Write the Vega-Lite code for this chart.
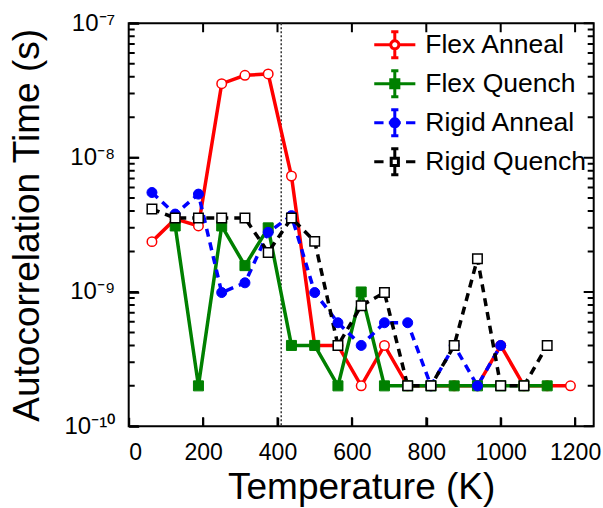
{
  "$schema": "https://vega.github.io/schema/vega-lite/v6.json",
  "width": 465,
  "height": 403,
  "autosize": {"type": "none"},
  "padding": {"left": 128.7, "top": 23.3, "right": 9.3, "bottom": 81.7},
  "config": {
    "font": "Liberation Sans",
    "view": {"stroke": "black", "strokeWidth": 2},
    "axis": {"grid": false, "domain": false, "labelColor": "black", "titleColor": "black", "titleFontWeight": "normal", "labelFont": "Liberation Sans", "titleFont": "Liberation Sans", "tickColor": "black", "tickWidth": 2}
  },
  "datasets": {
    "series": [
      {"T": 62.5, "tau": 2.37e-9, "series": "Flex Anneal"},
      {"T": 125, "tau": 3.5e-9, "series": "Flex Anneal"},
      {"T": 187.5, "tau": 3.1e-9, "series": "Flex Anneal"},
      {"T": 250, "tau": 3.55e-8, "series": "Flex Anneal"},
      {"T": 312.5, "tau": 4.1e-8, "series": "Flex Anneal"},
      {"T": 375, "tau": 4.2e-8, "series": "Flex Anneal"},
      {"T": 437.5, "tau": 7.3e-9, "series": "Flex Anneal"},
      {"T": 500, "tau": 4e-10, "series": "Flex Anneal"},
      {"T": 562.5, "tau": 4e-10, "series": "Flex Anneal"},
      {"T": 625, "tau": 2e-10, "series": "Flex Anneal"},
      {"T": 687.5, "tau": 4e-10, "series": "Flex Anneal"},
      {"T": 750, "tau": 2e-10, "series": "Flex Anneal"},
      {"T": 812.5, "tau": 2e-10, "series": "Flex Anneal"},
      {"T": 875, "tau": 2e-10, "series": "Flex Anneal"},
      {"T": 937.5, "tau": 2e-10, "series": "Flex Anneal"},
      {"T": 1000, "tau": 4e-10, "series": "Flex Anneal"},
      {"T": 1062.5, "tau": 2e-10, "series": "Flex Anneal"},
      {"T": 1125, "tau": 2e-10, "series": "Flex Anneal"},
      {"T": 1187.5, "tau": 2e-10, "series": "Flex Anneal"},
      {"T": 125, "tau": 3.1e-9, "series": "Flex Quench"},
      {"T": 187.5, "tau": 2e-10, "series": "Flex Quench"},
      {"T": 250, "tau": 3.1e-9, "series": "Flex Quench"},
      {"T": 312.5, "tau": 1.57e-9, "series": "Flex Quench"},
      {"T": 375, "tau": 3.0e-9, "series": "Flex Quench"},
      {"T": 437.5, "tau": 4e-10, "series": "Flex Quench"},
      {"T": 500, "tau": 4e-10, "series": "Flex Quench"},
      {"T": 562.5, "tau": 2e-10, "series": "Flex Quench"},
      {"T": 625, "tau": 1e-9, "series": "Flex Quench"},
      {"T": 687.5, "tau": 2e-10, "series": "Flex Quench"},
      {"T": 750, "tau": 2e-10, "series": "Flex Quench"},
      {"T": 812.5, "tau": 2e-10, "series": "Flex Quench"},
      {"T": 875, "tau": 2e-10, "series": "Flex Quench"},
      {"T": 937.5, "tau": 2e-10, "series": "Flex Quench"},
      {"T": 1000, "tau": 2e-10, "series": "Flex Quench"},
      {"T": 1062.5, "tau": 2e-10, "series": "Flex Quench"},
      {"T": 1125, "tau": 2e-10, "series": "Flex Quench"},
      {"T": 62.5, "tau": 5.5e-9, "series": "Rigid Anneal"},
      {"T": 125, "tau": 3.8e-9, "series": "Rigid Anneal"},
      {"T": 187.5, "tau": 5.35e-9, "series": "Rigid Anneal"},
      {"T": 250, "tau": 9.9e-10, "series": "Rigid Anneal"},
      {"T": 312.5, "tau": 1.17e-9, "series": "Rigid Anneal"},
      {"T": 375, "tau": 2.78e-9, "series": "Rigid Anneal"},
      {"T": 437.5, "tau": 3.7e-9, "series": "Rigid Anneal"},
      {"T": 500, "tau": 9.9e-10, "series": "Rigid Anneal"},
      {"T": 562.5, "tau": 5.9e-10, "series": "Rigid Anneal"},
      {"T": 625, "tau": 4e-10, "series": "Rigid Anneal"},
      {"T": 687.5, "tau": 5.9e-10, "series": "Rigid Anneal"},
      {"T": 750, "tau": 5.9e-10, "series": "Rigid Anneal"},
      {"T": 812.5, "tau": 2e-10, "series": "Rigid Anneal"},
      {"T": 875, "tau": 4e-10, "series": "Rigid Anneal"},
      {"T": 937.5, "tau": 2e-10, "series": "Rigid Anneal"},
      {"T": 1000, "tau": 4e-10, "series": "Rigid Anneal"},
      {"T": 62.5, "tau": 4.14e-9, "series": "Rigid Quench"},
      {"T": 125, "tau": 3.55e-9, "series": "Rigid Quench"},
      {"T": 187.5, "tau": 3.55e-9, "series": "Rigid Quench"},
      {"T": 250, "tau": 3.55e-9, "series": "Rigid Quench"},
      {"T": 312.5, "tau": 3.55e-9, "series": "Rigid Quench"},
      {"T": 375, "tau": 1.97e-9, "series": "Rigid Quench"},
      {"T": 437.5, "tau": 3.55e-9, "series": "Rigid Quench"},
      {"T": 500, "tau": 2.38e-9, "series": "Rigid Quench"},
      {"T": 562.5, "tau": 4e-10, "series": "Rigid Quench"},
      {"T": 625, "tau": 7.9e-10, "series": "Rigid Quench"},
      {"T": 687.5, "tau": 9.9e-10, "series": "Rigid Quench"},
      {"T": 750, "tau": 2e-10, "series": "Rigid Quench"},
      {"T": 812.5, "tau": 2e-10, "series": "Rigid Quench"},
      {"T": 875, "tau": 4e-10, "series": "Rigid Quench"},
      {"T": 937.5, "tau": 1.77e-9, "series": "Rigid Quench"},
      {"T": 1000, "tau": 2e-10, "series": "Rigid Quench"},
      {"T": 1062.5, "tau": 2e-10, "series": "Rigid Quench"},
      {"T": 1125, "tau": 4e-10, "series": "Rigid Quench"}
    ]
  },
  "resolve": {"axis": {"x": "independent", "y": "independent"}},
  "layer": [
    {
      "data": {"values": [{"tau": 1e-10}, {"tau": 1e-9}, {"tau": 1e-8}, {"tau": 1e-7}]},
      "mark": {"type": "rule", "color": "black", "strokeWidth": 2, "strokeDash": [10, 445, 10, 300]},
      "encoding": {
        "y": {"field": "tau", "type": "quantitative", "scale": {"type": "log", "domain": [1e-10, 1e-7], "nice": false}, "axis": null}
      }
    },
    {
      "data": {"values": [
        {"tau": 2e-10}, {"tau": 3e-10}, {"tau": 4e-10}, {"tau": 5e-10}, {"tau": 6e-10}, {"tau": 7e-10}, {"tau": 8e-10}, {"tau": 9e-10},
        {"tau": 2e-9}, {"tau": 3e-9}, {"tau": 4e-9}, {"tau": 5e-9}, {"tau": 6e-9}, {"tau": 7e-9}, {"tau": 8e-9}, {"tau": 9e-9},
        {"tau": 2e-8}, {"tau": 3e-8}, {"tau": 4e-8}, {"tau": 5e-8}, {"tau": 6e-8}, {"tau": 7e-8}, {"tau": 8e-8}, {"tau": 9e-8}
      ]},
      "mark": {"type": "rule", "color": "black", "strokeWidth": 2, "strokeDash": [6, 453, 6, 300]},
      "encoding": {
        "y": {"field": "tau", "type": "quantitative", "axis": null}
      }
    },
    {
      "data": {"values": [{"T": 200}, {"T": 400}, {"T": 600}, {"T": 800}, {"T": 1000}, {"T": 1200}]},
      "mark": {"type": "rule", "color": "black", "strokeWidth": 2, "strokeDash": [9, 385, 9, 300]},
      "encoding": {
        "x": {"field": "T", "type": "quantitative", "scale": {"domain": [0, 1250], "nice": false}, "axis": null}
      }
    },
    {
      "data": {"values": [{"T": 410}]},
      "mark": {"type": "rule", "color": "#333333", "strokeWidth": 1.5, "strokeDash": [2, 2]},
      "encoding": {
        "x": {"field": "T", "type": "quantitative", "axis": null}
      }
    },
    {
      "data": {"name": "series"},
      "transform": [{"filter": {"field": "series", "oneOf": ["Flex Anneal", "Flex Quench"]}}],
      "mark": {"type": "line", "strokeWidth": 3.5, "clip": true},
      "encoding": {
        "x": {"field": "T", "type": "quantitative",
          "axis": {"orient": "bottom", "values": [0, 200, 400, 600, 800, 1000, 1200], "format": "d", "ticks": true, "tickSize": -9, "labelFontSize": 23, "labelPadding": 24, "title": "Temperature (K)", "titleFontSize": 37, "titleBaseline": "alphabetic", "titleX": 232.5, "titleY": 71.7}},
        "y": {"field": "tau", "type": "quantitative",
          "axis": {"orient": "left",
            "values": [1e-10, 1e-9, 1e-8, 1e-7],
            "labelExpr": "datum.value == 1e-7 ? '10⁻⁷' : datum.value == 1e-8 ? '10⁻⁸' : datum.value == 1e-9 ? '10⁻⁹' : '10⁻¹⁰'",
            "ticks": true, "tickSize": -10,
            "labelFontSize": 24, "labelPadding": 24, "labelBaseline": "middle",
            "title": "Autocorrelation Time (s)", "titleFontSize": 37, "titleBaseline": "alphabetic", "titleX": -90, "titleY": 201.5}},
        "color": {"field": "series", "type": "nominal",
          "scale": {"domain": ["Flex Anneal", "Flex Quench", "Rigid Anneal", "Rigid Quench"], "range": ["#ff0000", "#008000", "#0000ff", "#000000"]},
          "legend": {
            "orient": "none", "legendX": 249.6, "legendY": 5, "title": null, "padding": 0,
            "labelFontSize": 26.5, "labelFont": "Liberation Sans", "labelColor": "black", "labelLimit": 300,
            "symbolSize": 900, "symbolStrokeWidth": 3, "rowPadding": 0, "labelOffset": 14,
            "encode": {"symbols": {"update": {
              "shape": {"signal": "datum.value == 'Flex Anneal' ? 'M-1.37,0H-0.27M0.27,0H1.37M0,-0.87V-0.27M0,0.27V0.87M-0.24,-0.87H0.24M-0.24,0.87H0.24M-0.27,0A0.27,0.27,0,1,0,0.27,0A0.27,0.27,0,1,0,-0.27,0Z' : datum.value == 'Flex Quench' ? 'M-1.37,0H1.37M0,-0.87V0.87M-0.24,-0.87H0.24M-0.24,0.87H0.24M-0.27,-0.27H0.27V0.27H-0.27Z' : datum.value == 'Rigid Anneal' ? 'M-1.37,0H-0.75M-0.4,0H0.4M0.75,0H1.37M0,-0.87V0.87M-0.24,-0.87H0.24M-0.24,0.87H0.24M-0.27,0A0.27,0.27,0,1,0,0.27,0A0.27,0.27,0,1,0,-0.27,0Z' : 'M-1.37,0H-0.75M0.75,0H1.37M0,-0.87V-0.24M0,0.24V0.87M-0.24,-0.87H0.24M-0.24,0.87H0.24M-0.24,-0.24H0.24V0.24H-0.24Z'"},
              "fill": {"signal": "datum.value == 'Flex Quench' ? '#008000' : datum.value == 'Rigid Anneal' ? '#0000ff' : '#ffffff'"},
              "fillOpacity": {"value": 1},
              "strokeDash": {"value": [1, 0]}
            }}}
          }}
      }
    },
    {
      "data": {"name": "series"},
      "transform": [{"filter": {"field": "series", "oneOf": ["Rigid Anneal", "Rigid Quench"]}}],
      "mark": {"type": "line", "strokeWidth": 3.5, "strokeDash": [8, 6], "clip": true},
      "encoding": {
        "x": {"field": "T", "type": "quantitative", "axis": null},
        "y": {"field": "tau", "type": "quantitative", "axis": null},
        "color": {"field": "series", "type": "nominal"}
      }
    },
    {
      "data": {"name": "series"},
      "transform": [{"filter": {"field": "series", "equal": "Flex Anneal"}}],
      "mark": {"type": "point", "shape": "circle", "size": 90, "filled": true, "fill": "#ffffff", "stroke": "#ff0000", "strokeWidth": 1.5, "opacity": 1, "clip": true},
      "encoding": {
        "x": {"field": "T", "type": "quantitative", "axis": null},
        "y": {"field": "tau", "type": "quantitative", "axis": null}
      }
    },
    {
      "data": {"name": "series"},
      "transform": [{"filter": {"field": "series", "equal": "Flex Quench"}}],
      "mark": {"type": "point", "shape": "square", "size": 100, "filled": true, "fill": "#008000", "stroke": "#008000", "strokeWidth": 1, "opacity": 1, "clip": true},
      "encoding": {
        "x": {"field": "T", "type": "quantitative", "axis": null},
        "y": {"field": "tau", "type": "quantitative", "axis": null}
      }
    },
    {
      "data": {"name": "series"},
      "transform": [{"filter": {"field": "series", "equal": "Rigid Anneal"}}],
      "mark": {"type": "point", "shape": "circle", "size": 100, "filled": true, "fill": "#0000ff", "stroke": "#0000ff", "strokeWidth": 1, "opacity": 1, "clip": true},
      "encoding": {
        "x": {"field": "T", "type": "quantitative", "axis": null},
        "y": {"field": "tau", "type": "quantitative", "axis": null}
      }
    },
    {
      "data": {"name": "series"},
      "transform": [{"filter": {"field": "series", "equal": "Rigid Quench"}}],
      "mark": {"type": "point", "shape": "square", "size": 90, "filled": true, "fill": "#ffffff", "stroke": "#000000", "strokeWidth": 1.5, "opacity": 1, "clip": true},
      "encoding": {
        "x": {"field": "T", "type": "quantitative", "axis": null},
        "y": {"field": "tau", "type": "quantitative", "axis": null}
      }
    }
  ]
}
